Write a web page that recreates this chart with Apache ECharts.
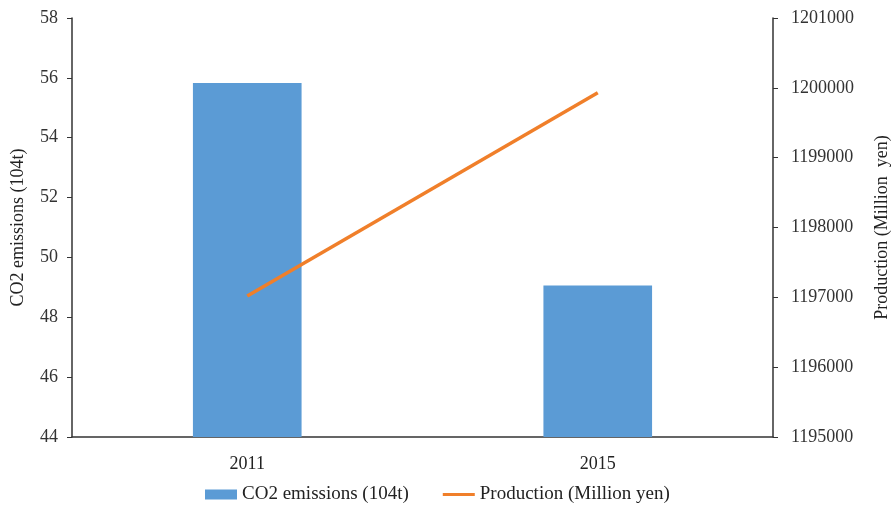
<!DOCTYPE html>
<html>
<head>
<meta charset="utf-8">
<script src="https://cdn.jsdelivr.net/npm/echarts@6/dist/echarts.min.js"></script>
<style>
  html, body { margin: 0; padding: 0; background: #fff; }
  #chart { width: 893px; height: 516px; }
</style>
</head>
<body>
<div id="chart"></div>
<script>
var years = ['2011', '2015'];
var co2 = [55.83, 49.06];
var production = [1197020, 1199930];

var chart = echarts.init(document.getElementById('chart'));
var font = 'Liberation Serif';
var option = {
    animation: false,
    textStyle: { fontFamily: font },
    legend: {
        left: 200,
        bottom: 7,
        itemGap: 34,
        textStyle: { fontFamily: font, fontSize: 19, color: '#222' },
        data: [
            { name: 'CO2 emissions (104t)', icon: 'rect', itemStyle: { color: '#5b9bd5' } },
            { name: 'Production (Million yen)', icon: 'path://M0,0 L32,0 L32,3 L0,3 Z', itemStyle: { color: '#f07f2a' } }
        ],
        itemWidth: 32,
        itemHeight: 10
    },
    grid: { left: 72, right: 120, top: 18, bottom: 79, outerBoundsMode: 'none' },
    xAxis: {
        type: 'category',
        data: years,
        axisLine: { lineStyle: { color: '#333', width: 1.5 } },
        axisTick: { show: false },
        axisLabel: { fontFamily: font, fontSize: 18, color: '#222', margin: 18 }
    },
    yAxis: [{
        type: 'value',
        min: 44, max: 58, interval: 2,
        name: 'CO2 emissions (104t)',
        nameLocation: 'middle',
        nameGap: 45,
        nameTextStyle: { fontFamily: font, fontSize: 18, color: '#222' },
        axisLine: { show: true, lineStyle: { color: '#333', width: 1.5 } },
        axisTick: { show: true, inside: false, length: 5 },
        axisLabel: { fontFamily: font, fontSize: 18, color: '#333', margin: 14 },
        splitLine: { show: false }
    }, {
        type: 'value',
        min: 1195000, max: 1201000, interval: 1000,
        name: 'Production (Million  yen)',
        nameLocation: 'middle',
        nameGap: 100,
        nameRotate: 90,
        nameTextStyle: { fontFamily: font, fontSize: 18, color: '#222' },
        axisLine: { show: true, lineStyle: { color: '#333', width: 1.5 } },
        axisTick: { show: true, inside: false, length: 5 },
        axisLabel: { fontFamily: font, fontSize: 18, color: '#333', margin: 18,
            formatter: function (v) { return String(v); } },
        splitLine: { show: false }
    }],
    series: [{
        name: 'CO2 emissions (104t)',
        type: 'bar',
        data: co2,
        barWidth: '31%',
        itemStyle: { color: '#5b9bd5' }
    }, {
        name: 'Production (Million yen)',
        type: 'line',
        yAxisIndex: 1,
        data: production,
        symbol: 'none',
        lineStyle: { color: '#f07f2a', width: 3.5 },
        itemStyle: { color: '#f07f2a' }
    }]
};
chart.setOption(option);
window.onresize = chart.resize;
</script>
</body>
</html>
